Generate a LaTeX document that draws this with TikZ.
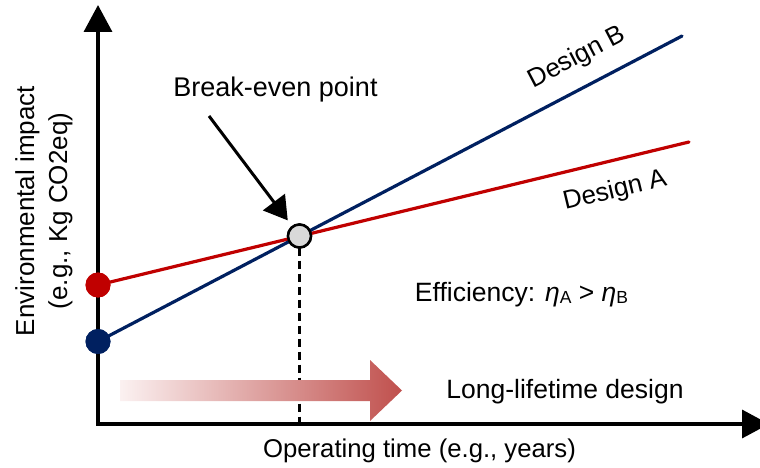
\documentclass[tikz,border=0pt]{standalone}
\usepackage{fontspec}
\setmainfont{Liberation Sans}
\usetikzlibrary{arrows.meta}
\definecolor{dred}{HTML}{C00000}
\definecolor{dblue}{HTML}{002060}
\definecolor{gradd}{HTML}{C0504D}
\definecolor{gradl}{HTML}{FBF1F1}
\definecolor{begrey}{HTML}{D9D9D9}
\begin{document}
\begin{tikzpicture}[x=1pt,y=-1pt,
  every node/.style={font=\fontsize{26}{33}\selectfont, inner sep=0pt, outer sep=0pt},
  axisline/.style={line width=3.5pt, {Triangle[length=27pt,width=28pt]}-{Triangle[length=27pt,width=28pt]}},
  designline/.style={line width=3.2pt, line cap=round},
  enddot/.style={circle, minimum size=25pt, fill=#1},
  bepoint/.style={circle, minimum size=23pt, fill=begrey, draw=black, line width=2.5pt},
  pointer/.style={line width=3pt, -{Triangle[length=23pt,width=27pt]}, shorten >=8pt},
  dropline/.style={line width=2.5pt, dash pattern=on 8pt off 5pt}
]
\useasboundingbox (0,0) rectangle (760,468);

% axes
\coordinate (O) at (98,424);
\coordinate (ytop) at (98,5);
\coordinate (xend) at (769,424);
\draw[axisline] (ytop) -- (O) -- (xend);

% design lines
\coordinate (Aend) at (689,142);
\coordinate (Bend) at (682,36);
\node[enddot=dred] (A0) at (98,285) {};
\node[enddot=dblue] (B0) at (98,341.5) {};
\node[bepoint] (be) at (299.5,236) {};

\draw[designline, dred] (A0.center) -- (Aend);
\draw[designline, dblue] (B0.center) -- (Bend);
\node[enddot=dred] at (A0) {};
\node[enddot=dblue] at (B0) {};

% drop line
\draw[dropline] (be) -- (be |- O);
\node[bepoint] at (be) {};

% break-even label and pointer
\node[anchor=base, font=\fontsize{27}{33}\selectfont] (belabel) at (275.5,97) {Break-even point};
\coordinate (pstart) at (209,116);
\draw[pointer] (pstart) -- (be);

% design labels
\node[rotate=27.6] (labB) at (577,58) {Design B};
\node[rotate=13.5] (labA) at (615,191) {Design A};

% efficiency
\node[anchor=base, font=\fontsize{26.5}{33}\selectfont] (eff) at (521.5,301) {Efficiency: \textit{η}\raisebox{-2pt}{\fontsize{17.5}{17.5}\selectfont A} > \textit{η}\raisebox{-2pt}{\fontsize{17.5}{17.5}\selectfont B}};

% gradient arrow
\shade[left color=gradl, right color=gradd] (120,380) -- (370,380) -- (370,360) -- (402,390.5) -- (370,421) -- (370,401) -- (120,401) -- cycle;
\node[anchor=base, font=\fontsize{26.5}{33}\selectfont] (lld) at (565,398) {Long-lifetime design};

% axis labels
\node[anchor=base, font=\fontsize{25.7}{33}\selectfont] (xlab) at (419.5,457) {Operating time (e.g., years)};
\node[rotate=90, align=center] (ylab) at (44,211) {Environmental impact\\(e.g., Kg CO2eq)};
\end{tikzpicture}
\end{document}
